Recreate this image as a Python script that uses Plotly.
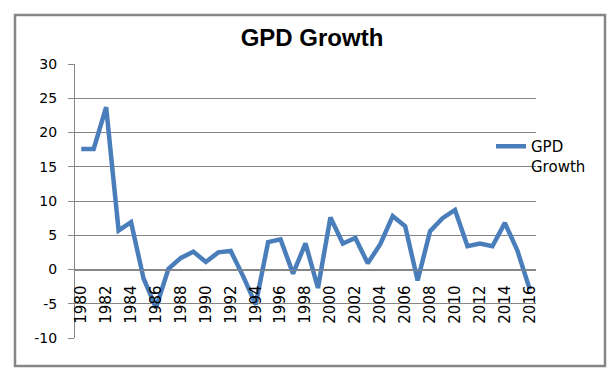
import plotly.graph_objects as go

years = list(range(1980, 2017))
growth = [17.6, 17.6, 23.7, 5.7, 6.9, -1.3, -5.6, 0.1, 1.7, 2.6, 1.1, 2.5,
          2.7, -1.0, -5.1, 4.0, 4.4, -0.6, 3.8, -2.7, 7.6, 3.8, 4.6, 0.9,
          3.7, 7.8, 6.3, -1.6, 5.6, 7.5, 8.7, 3.4, 3.8, 3.4, 6.8, 2.8, -2.9]
label_years = years[::2]
y_ticks = [-10, -5, 0, 5, 10, 15, 20, 25, 30]
y_tick_labels = [str(v) for v in y_ticks]  # plain hyphen minus, as in the original
tick_bounds = [y - 0.5 for y in years] + [years[-1] + 0.5]

grid = "#868686"
tick_font = "DejaVu Sans, Verdana, sans-serif"
title_font = "Liberation Sans, Arial, sans-serif"

# The page body has an 8px margin, so the figure is 8px smaller each way
W, H = 607, 373
L, R, T, B = 67, 528, 56, 330
PW, PH = R - L, B - T

fig = go.Figure()
fig.add_trace(go.Scatter(
    x=years, y=growth, mode="lines", name="GPD<br>Growth",
    line=dict(color="#4A7EBB", width=4.5),
))

fig.update_layout(
    width=W, height=H,
    margin=dict(l=L, r=W - R, t=T, b=H - B, autoexpand=False),
    paper_bgcolor="white", plot_bgcolor="white",
    title=dict(text="<b>GPD Growth</b>", x=(304 - L) / PW, xanchor="center",
               xref="paper", y=1 - 30 / H, yanchor="middle",
               font=dict(family=title_font, size=24, color="black")),
    font=dict(family=tick_font, size=14, color="black"),
    showlegend=True,
    legend=dict(x=(483 - L) / PW, y=(B - 122) / PH, xanchor="left",
                yanchor="top", valign="top", bgcolor="rgba(0,0,0,0)",
                font=dict(size=15, family=tick_font), itemwidth=30),
    xaxis=dict(range=[1979.5, 2016.5], anchor="free", position=0.25,
               tickvals=label_years, ticktext=[str(y) for y in label_years],
               tickangle=-90, ticks="", showgrid=False, zeroline=False,
               showline=True, linecolor=grid, linewidth=1,
               ticklabelstandoff=9,
               tickfont=dict(size=15, family=tick_font)),
    xaxis2=dict(range=[1979.5, 2016.5], overlaying="x", anchor="free",
                position=0.25, tickvals=tick_bounds, ticks="outside",
                ticklen=7, tickcolor=grid, showticklabels=False,
                showgrid=False, zeroline=False, showline=False),
    yaxis=dict(range=[-10, 30], tickvals=y_ticks, ticktext=y_tick_labels,
               showgrid=True, gridcolor=grid, gridwidth=1, zeroline=False,
               showline=True, linecolor=grid, linewidth=1,
               ticks="outside", ticklen=6, tickcolor=grid,
               ticklabelstandoff=8,
               tickfont=dict(size=14, family=tick_font)),
)

fig.add_shape(type="rect", xref="paper", yref="paper",
              x0=(7 - L) / PW, x1=(597 - L) / PW,
              y0=(B - 358) / PH, y1=(B - 7) / PH,
              line=dict(color="#868686", width=2.5), fillcolor="rgba(0,0,0,0)",
              layer="below")

fig.write_html("out.html")
